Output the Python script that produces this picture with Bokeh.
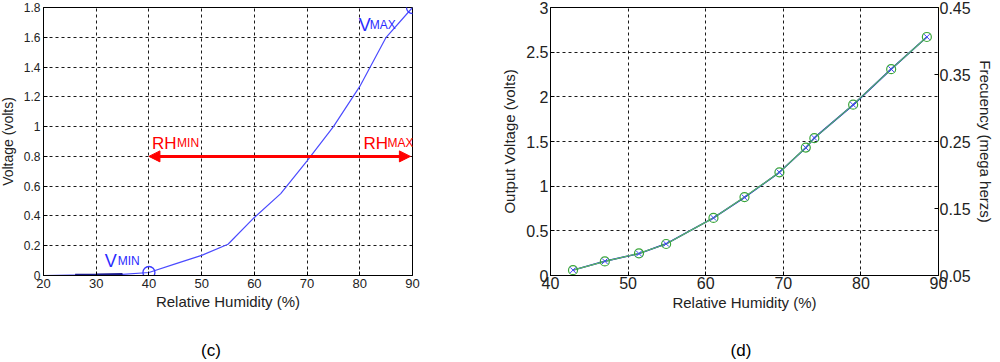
from bokeh.plotting import figure
from bokeh.layouts import row, column
from bokeh.models import (Range1d, LinearAxis, FixedTicker, Label, Arrow,
                          NormalHead, CustomJSTickFormatter, Div, Spacer)
from bokeh.embed import file_html
from bokeh.resources import INLINE

FONT = "Liberation Sans"
TXT = "#222222"

# ---------------- chart (c) data ----------------
rh_c = [20, 25, 30, 35, 40, 45, 50, 55, 60, 65, 70, 75, 80, 85, 90]
v_c = [0.0, 0.003, 0.005, 0.008, 0.02, 0.078, 0.135, 0.21, 0.39, 0.55,
       0.77, 1.0, 1.27, 1.6, 1.8]
rh_c_dark = [26, 30, 35]
v_c_dark = [0.004, 0.005, 0.008]
rh_marks = [40, 90]
v_marks = [0.02, 1.8]
rh_arrow = [40, 89.6]
v_arrow = 0.8
x_ticks_c = [20, 30, 40, 50, 60, 70, 80, 90]
y_ticks_c = [0, 0.2, 0.4, 0.6, 0.8, 1.0, 1.2, 1.4, 1.6, 1.8]

# ---------------- chart (d) data ----------------
rh_d = [42.9, 47.0, 51.4, 54.9, 61.0, 65.0, 69.5, 72.9, 74.0, 79.0, 83.9, 88.5]
volt_d = [0.06, 0.16, 0.245, 0.355, 0.645, 0.875, 1.155, 1.43, 1.54, 1.91, 2.31, 2.67]
freq_d = [0.058, 0.071, 0.083, 0.097, 0.136, 0.167, 0.204, 0.241, 0.255, 0.305, 0.358, 0.406]
x_ticks_d = [40, 50, 60, 70, 80, 90]
y_ticks_d = [0, 0.5, 1, 1.5, 2, 2.5, 3]
f_ticks_d = [0.05, 0.15, 0.25, 0.35, 0.45]

fmt = CustomJSTickFormatter(code="return String(Math.round(tick*1000)/1000);")


def style_axis(ax, tick_size, label_size, std, label_std):
    ax.major_tick_in = 4
    ax.major_tick_out = 0
    ax.minor_tick_in = 0
    ax.minor_tick_out = 0
    ax.axis_line_color = "black"
    ax.major_tick_line_color = "black"
    ax.major_label_text_font = FONT
    ax.major_label_text_font_size = f"{tick_size}px"
    ax.major_label_text_color = TXT
    ax.major_label_standoff = std
    ax.axis_label_text_font = FONT
    ax.axis_label_text_font_size = f"{label_size}px"
    ax.axis_label_text_font_style = "normal"
    ax.axis_label_text_color = TXT
    ax.axis_label_standoff = label_std
    ax.formatter = fmt


def style_grid(p, xt, yt):
    p.xgrid.ticker = FixedTicker(ticks=xt)
    p.ygrid.ticker = FixedTicker(ticks=yt)
    for g in (p.xgrid, p.ygrid):
        g.grid_line_color = "black"
        g.grid_line_dash = "3 3"
        g.grid_line_width = 1
        g.grid_line_alpha = 0.9
    p.outline_line_color = "black"
    p.outline_line_width = 1
    p.outline_line_alpha = 1


def caption(text, width):
    return Div(text=f'<div style="display:block;width:{width}px;text-align:center;'
                    f'font-family:\'{FONT}\';font-size:17px;color:black;'
                    f'line-height:20px;">{text}</div>',
               width=width, height=22)


# ---------------- figure (c) ----------------
p1 = figure(width=470, height=340, x_range=Range1d(20, 90), y_range=Range1d(0, 1.8),
            output_backend="svg", toolbar_location=None,
            min_border_left=43, min_border_right=54, min_border_top=7,
            min_border_bottom=61, background_fill_color="white",
            border_fill_color="white")
p1.xaxis.ticker = FixedTicker(ticks=x_ticks_c)
p1.yaxis.ticker = FixedTicker(ticks=y_ticks_c)
p1.xaxis.axis_label = "Relative Humidity (%)"
p1.yaxis.axis_label = "Voltage (volts)"
style_axis(p1.xaxis[0], 13, 15, 3, 2)
style_axis(p1.yaxis[0], 12, 14, 3, 5)
style_grid(p1, x_ticks_c, y_ticks_c)

p1.line(rh_c, v_c, line_color="#4b4bff", line_width=1.2)
p1.line(rh_c_dark, v_c_dark, line_color="#1a1a8c", line_width=2.5)
p1.scatter(rh_marks, v_marks, marker="circle", size=12, fill_color=None,
           line_color="#3b3bff", line_width=1.3)

head = dict(size=11, fill_color="red", line_color="red")
p1.add_layout(Arrow(start=NormalHead(**head), end=NormalHead(**head),
                    x_start=rh_arrow[0], y_start=v_arrow,
                    x_end=rh_arrow[1], y_end=v_arrow,
                    line_color="red", line_width=3))


def sub_label(p, x, y, big, small, color, big_size, small_size, small_dx):
    p.add_layout(Label(x=x, y=y, text=big, text_color=color, text_font=FONT,
                       text_font_size=f"{big_size}px", text_baseline="alphabetic"))
    p.add_layout(Label(x=x, y=y, x_offset=small_dx, text=small, text_color=color,
                       text_font=FONT, text_font_size=f"{small_size}px",
                       text_baseline="alphabetic"))


sub_label(p1, 31.6, 0.099, "V", "MIN", "#2b2bff", 18, 12, 13)
sub_label(p1, 79.8, 1.68, "V", "MAX", "#2b2bff", 18, 12, 11)
sub_label(p1, 40.6, 0.887, "RH", "MIN", "red", 17, 12, 25)
sub_label(p1, 80.7, 0.887, "RH", "MAX", "red", 17, 12, 24)

# ---------------- figure (d) ----------------
p2 = figure(width=530, height=340, x_range=Range1d(40, 90), y_range=Range1d(0, 3),
            output_backend="svg", toolbar_location=None,
            min_border_left=84, min_border_right=58, min_border_top=11,
            min_border_bottom=61, background_fill_color="white",
            border_fill_color="white")
p2.extra_y_ranges = {"freq": Range1d(0.05, 0.45)}
p2.xaxis.ticker = FixedTicker(ticks=x_ticks_d)
p2.yaxis.ticker = FixedTicker(ticks=y_ticks_d)
p2.xaxis.axis_label = "Relative Humidity (%)"
p2.yaxis.axis_label = "Output Voltage (volts)"
style_axis(p2.xaxis[0], 16, 15, 1, 2)
style_axis(p2.yaxis[0], 16, 15, 2, 5)
ax_r = LinearAxis(y_range_name="freq", ticker=FixedTicker(ticks=f_ticks_d),
                  axis_label="Frecuency (mega herzs)")
style_axis(ax_r, 16, 15, 1, 3)
p2.add_layout(ax_r, "right")
style_grid(p2, x_ticks_d, y_ticks_d)

p2.line(rh_d, volt_d, line_color="#0000dd", line_width=1.5)
p2.line(rh_d, freq_d, y_range_name="freq", line_color="#5cbf5c", line_width=1.2)
p2.scatter(rh_d, freq_d, y_range_name="freq", marker="circle", size=9,
           fill_color=None, line_color="#3aa63a", line_width=1.2)
p2.scatter(rh_d, volt_d, marker="x", size=8, line_color="#4040ff", line_width=1)

captions = row(caption("(c)", 420), Spacer(width=90, height=22), caption("(d)", 440))
layout = column(row(p1, p2), captions, styles={"margin": "-4px"})
open("out.html", "w").write(file_html(layout, INLINE))
